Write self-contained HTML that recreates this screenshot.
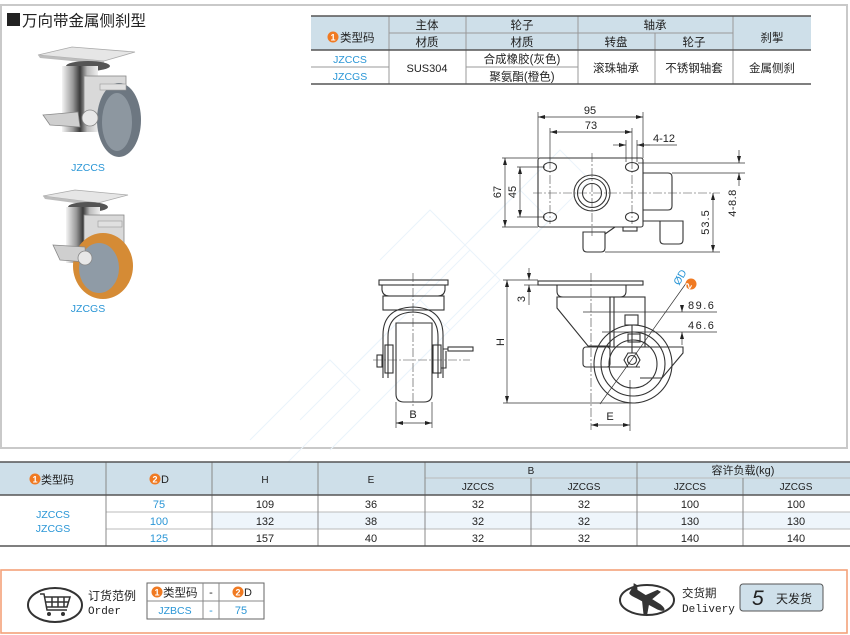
<!DOCTYPE html>
<html><head><meta charset="utf-8"><style>
html,body{margin:0;padding:0;background:#fff;width:850px;height:635px;overflow:hidden}
svg{display:block}
text{font-family:"Liberation Sans","Noto Sans CJK SC",sans-serif;fill:#222}
.m{font-family:"Liberation Mono","Noto Sans CJK SC",monospace}
.b{fill:#2a96d6}
.c{text-anchor:middle}
</style></head><body>
<svg width="850" height="635" viewBox="0 0 850 635" xmlns="http://www.w3.org/2000/svg">
<defs>
<marker id="a" markerUnits="userSpaceOnUse" viewBox="0 0 7 4" refX="7" refY="2" markerWidth="7" markerHeight="4" orient="auto-start-reverse"><path d="M0,0 L7,2 L0,4z" fill="#222"/></marker>
<linearGradient id="chr" x1="0" x2="1"><stop offset="0" stop-color="#f4f4f4"/><stop offset=".3" stop-color="#9a9a9a"/><stop offset=".5" stop-color="#3a3a3a"/><stop offset=".7" stop-color="#bdbdbd"/><stop offset="1" stop-color="#efefef"/></linearGradient>
</defs>
<!-- main frame -->
<rect x="1" y="5" width="846" height="443" fill="#fff" stroke="#c9c9c9" stroke-width="2"/>
<!-- watermark -->
<g fill="none" stroke="#eaf4fb" stroke-width="1">
<path d="M250,440 L330,360 L360,390 L280,470"/>
<path d="M300,420 L420,300 L450,330 L330,450"/>
<path d="M360,360 L470,250 L500,280 L390,390"/>
<path d="M410,300 L520,190 L550,220 L440,330"/>
<path d="M470,240 L560,150 L590,180 L500,270"/>
<path d="M380,260 L430,210 L470,250"/>
</g>
<!-- title -->
<rect x="7" y="13" width="13" height="13" fill="#222"/>
<text x="22" y="26" font-size="15.5">万向带金属侧刹型</text>

<!-- caster 1 -->
<g>
<polygon points="38,55 72,47 135,52 104,61" fill="#e6e6e6" stroke="#aaa" stroke-width=".8"/>
<polygon points="38,55 104,61 104,64 40,58" fill="#bdbdbd"/>
<ellipse cx="88" cy="66" rx="22" ry="5" fill="#555"/>
<rect x="62" y="66" width="36" height="66" fill="url(#chr)"/>
<rect x="84" y="76" width="42" height="40" fill="#d9d9d9" stroke="#888" stroke-width=".8"/>
<ellipse cx="119" cy="120" rx="22" ry="37" fill="#6d7781"/>
<ellipse cx="117" cy="122" rx="15" ry="29" fill="#8d97a0"/>
<rect x="100" y="84" width="26" height="6" fill="#e0e0e0" stroke="#999" stroke-width=".6"/>
<polygon points="43,115 78,112 80,127 50,125" fill="#cfcfcf" stroke="#888" stroke-width=".8"/>
<circle cx="90" cy="118" r="8" fill="#e8e8e8" stroke="#888" stroke-width=".8"/>
</g>
<text x="88" y="171" font-size="10.5" class="c b">JZCCS</text>
<!-- caster 2 -->
<g>
<polygon points="43,196 75,190 128,195 98,203" fill="#e6e6e6" stroke="#aaa" stroke-width=".8"/>
<polygon points="43,196 98,203 98,206 45,199" fill="#bdbdbd"/>
<ellipse cx="88" cy="207" rx="20" ry="5" fill="#555"/>
<rect x="66" y="207" width="34" height="56" fill="url(#chr)"/>
<rect x="84" y="215" width="40" height="35" fill="#d9d9d9" stroke="#888" stroke-width=".8"/>
<ellipse cx="103" cy="266" rx="30" ry="33" fill="#d58b35"/>
<ellipse cx="99" cy="268" rx="20" ry="25" fill="#8f9ba6"/>
<rect x="98" y="221" width="24" height="6" fill="#e0e0e0" stroke="#999" stroke-width=".6"/>
<polygon points="53,245 85,247 86,262 60,260" fill="#cfcfcf" stroke="#888" stroke-width=".8"/>
<circle cx="85" cy="258" r="7" fill="#e8e8e8" stroke="#888" stroke-width=".8"/>
</g>
<text x="88" y="312" font-size="10.5" class="c b">JZCGS</text>

<!-- top table -->
<rect x="311" y="16" width="500" height="34" fill="#cedfe9"/>
<g stroke="#999" stroke-width="1">
<line x1="389" y1="33" x2="733" y2="33"/>
<line x1="311" y1="67" x2="389" y2="67"/>
<line x1="466" y1="67" x2="578" y2="67"/>
<line x1="389" y1="16" x2="389" y2="84"/>
<line x1="466" y1="16" x2="466" y2="84"/>
<line x1="578" y1="16" x2="578" y2="84"/>
<line x1="655" y1="33" x2="655" y2="84"/>
<line x1="733" y1="16" x2="733" y2="84"/>
</g>
<g stroke="#555" stroke-width="1.5">
<line x1="311" y1="16" x2="811" y2="16"/>
<line x1="311" y1="50" x2="811" y2="50"/>
<line x1="311" y1="84" x2="811" y2="84"/>
</g>
<g font-size="11.5">
<circle cx="333" cy="37" r="5.5" fill="#f07a22"/><text x="333" y="40.5" font-size="9" class="c" style="fill:#fff;font-weight:bold">1</text>
<text x="340" y="41.5">类型码</text>
<text x="427" y="29" class="c">主体</text><text x="427" y="46" class="c">材质</text>
<text x="522" y="29" class="c">轮子</text><text x="522" y="46" class="c">材质</text>
<text x="655" y="29" class="c">轴承</text>
<text x="616" y="46" class="c">转盘</text><text x="694" y="46" class="c">轮子</text>
<text x="772" y="41.5" class="c">刹掣</text>
<text x="350" y="63" font-size="10.5" class="c b">JZCCS</text>
<text x="350" y="80" font-size="10.5" class="c b">JZCGS</text>
<text x="427" y="72" font-size="11" class="c">SUS304</text>
<text x="522" y="63" class="c">合成橡胶(灰色)</text>
<text x="522" y="80.5" class="c">聚氨酯(橙色)</text>
<text x="616" y="72" class="c">滚珠轴承</text>
<text x="694" y="72" class="c">不锈钢轴套</text>
<text x="772" y="72" class="c">金属侧刹</text>
</g>

<!-- top view drawing -->
<g fill="none" stroke="#333" stroke-width="1.1">
<rect x="538" y="158" width="105" height="69" rx="2"/>
<path d="M643,173 H668 Q672,173 672,177 V206 Q672,210 668,210 H643"/>
<ellipse cx="550" cy="167" rx="6.5" ry="4.5"/>
<ellipse cx="632" cy="167" rx="6.5" ry="4.5"/>
<ellipse cx="550" cy="217" rx="6.5" ry="4.5"/>
<ellipse cx="632" cy="217" rx="6.5" ry="4.5"/>
<circle cx="592" cy="193" r="18"/>
<circle cx="592" cy="193" r="14.5"/>
<circle cx="592" cy="193" r="9.5"/>
<path d="M583,232 V248 Q583,252 587,252 H601 Q605,252 605,248 V232 Z"/>
<path d="M605,234 L615,227"/>
<path d="M660,221 V240 Q660,244 664,244 H679 Q683,244 683,240 V221 Z"/>
<path d="M643,221 H683"/>
<rect x="623" y="227" width="14" height="4"/>
</g>
<g stroke="#444" stroke-width=".6" fill="none" stroke-dasharray="9 2 2 2">
<line x1="533" y1="193" x2="720" y2="193"/>
<line x1="592" y1="153" x2="592" y2="236"/>
<line x1="550" y1="160" x2="550" y2="224"/>
<line x1="632" y1="160" x2="632" y2="224"/>
</g>
<g stroke="#333" stroke-width=".7" fill="none">
<line x1="538" y1="112" x2="538" y2="158"/><line x1="643" y1="112" x2="643" y2="158"/>
<line x1="538" y1="117" x2="643" y2="117" marker-start="url(#a)" marker-end="url(#a)"/>
<line x1="550" y1="128" x2="550" y2="160"/><line x1="632" y1="128" x2="632" y2="160"/>
<line x1="550" y1="132" x2="632" y2="132" marker-start="url(#a)" marker-end="url(#a)"/>
<line x1="626" y1="140" x2="626" y2="162"/><line x1="637" y1="140" x2="637" y2="162"/>
<line x1="613" y1="145" x2="626" y2="145" marker-end="url(#a)"/>
<line x1="650" y1="145" x2="637" y2="145" marker-end="url(#a)"/>
<line x1="637" y1="145" x2="677" y2="145"/>
<line x1="502" y1="158" x2="538" y2="158"/><line x1="502" y1="227" x2="538" y2="227"/>
<line x1="505" y1="158" x2="505" y2="227" marker-start="url(#a)" marker-end="url(#a)"/>
<line x1="517" y1="167" x2="545" y2="167"/><line x1="517" y1="217" x2="545" y2="217"/>
<line x1="520" y1="167" x2="520" y2="217" marker-start="url(#a)" marker-end="url(#a)"/>
<line x1="638" y1="163" x2="745" y2="163"/><line x1="672" y1="173" x2="745" y2="173"/>
<line x1="739" y1="150" x2="739" y2="163" marker-end="url(#a)"/>
<line x1="739" y1="186" x2="739" y2="173" marker-end="url(#a)"/>
<line x1="605" y1="252" x2="720" y2="252"/>
<line x1="713" y1="193" x2="713" y2="252" marker-start="url(#a)" marker-end="url(#a)"/>
</g>
<g font-size="11">
<text x="590" y="114" class="c">95</text>
<text x="591" y="129" class="c">73</text>
<text x="653" y="142">4-12</text>
<text transform="translate(501,192) rotate(-90)" class="c">67</text>
<text transform="translate(516,192) rotate(-90)" class="c">45</text>
<text transform="translate(736,203) rotate(-90)" class="c" letter-spacing=".5">4-8.8</text>
<text transform="translate(709,222) rotate(-90)" class="c" letter-spacing="1">53.5</text>
</g>

<!-- front view -->
<g fill="none" stroke="#333" stroke-width="1.1">
<rect x="379" y="280" width="69" height="5"/>
<path d="M382,285 H445 V290 Q444,296 438,296 H389 Q383,296 382,290 Z"/>
<rect x="383" y="296" width="61" height="14"/>
<path d="M383,378 V335 Q383,308 413,307 Q443,308 443,335 V378"/>
<path d="M388,378 V337 Q388,313 413,312 Q438,313 438,337 V378"/>
<path d="M396,323 H432 V394 Q432,402 424,402 H404 Q396,402 396,394 Z"/>
<rect x="385" y="345" width="8" height="28"/>
<rect x="433" y="345" width="8" height="28"/>
<rect x="448" y="347" width="25" height="4"/>
<path d="M443,349 H448 M446,351 V368 H441"/>
<rect x="377" y="355" width="5" height="12"/>
</g>
<g stroke="#444" stroke-width=".6" stroke-dasharray="9 2 2 2">
<line x1="413" y1="273" x2="413" y2="406"/>
<line x1="373" y1="360" x2="470" y2="360"/>
</g>
<g stroke="#333" stroke-width=".7">
<line x1="396" y1="402" x2="396" y2="428"/><line x1="432" y1="402" x2="432" y2="428"/>
<line x1="396" y1="423" x2="432" y2="423" marker-start="url(#a)" marker-end="url(#a)"/>
</g>
<text x="413" y="418" font-size="11" class="c">B</text>

<!-- side view -->
<g fill="none" stroke="#333" stroke-width="1.1">
<rect x="538" y="281" width="105" height="4"/>
<path d="M557,285 V291 Q557,297 563,297 H620 Q626,297 626,291 V285"/>
<path d="M557,297 V308 L588,346 H610 V297 Z"/>
<rect x="610" y="297" width="35" height="50"/>
<line x1="614" y1="297" x2="614" y2="347"/>
<circle cx="633" cy="364" r="39"/>
<circle cx="633" cy="364" r="32"/>
<circle cx="633" cy="364" r="24"/>
<rect x="583" y="347" width="27" height="20" rx="3"/>
<path d="M606,347 H683 V353 L662,378 H640"/>
<path d="M606,367 H640"/>
<polygon points="640,360 636,367 628,367 624,360 628,353 636,353" fill="#fff"/>
<circle cx="632" cy="360" r="4.5"/>
<rect x="625" y="315" width="13" height="10"/>
<rect x="628" y="334" width="12" height="8"/>
<line x1="632" y1="325" x2="632" y2="353"/>
</g>
<g stroke="#444" stroke-width=".6" stroke-dasharray="9 2 2 2">
<line x1="591" y1="273" x2="591" y2="430"/>
</g>
<g stroke="#333" stroke-width=".7">
<line x1="503" y1="280" x2="538" y2="280"/>
<line x1="503" y1="403" x2="633" y2="403"/>
<line x1="507" y1="280" x2="507" y2="403" marker-start="url(#a)" marker-end="url(#a)"/>
<line x1="524" y1="285" x2="538" y2="285"/>
<line x1="529" y1="268" x2="529" y2="280" marker-end="url(#a)"/>
<line x1="529" y1="305" x2="529" y2="285" marker-end="url(#a)"/>
<line x1="583" y1="312" x2="717" y2="312"/>
<line x1="602" y1="332" x2="717" y2="332"/>
<line x1="682" y1="305" x2="682" y2="312" marker-end="url(#a)"/>
<line x1="682" y1="345" x2="682" y2="332" marker-end="url(#a)"/>
<line x1="630" y1="380" x2="630" y2="431"/>
<line x1="591" y1="425" x2="630" y2="425" marker-start="url(#a)" marker-end="url(#a)"/>
<line x1="687" y1="282" x2="600" y2="404"/>
</g>
<g font-size="11">
<text transform="translate(504,342) rotate(-90)" class="c">H</text>
<text transform="translate(525,299) rotate(-90)" class="c">3</text>
<text x="688" y="309" letter-spacing="1.5">89.6</text>
<text x="688" y="329" letter-spacing="1.5">46.6</text>
<text x="610" y="420" class="c">E</text>
<text transform="translate(683,279) rotate(-60)" class="c b" font-size="10.5">ØD</text>
</g>
<circle cx="691" cy="284" r="5.5" fill="#f07a22"/>
<text transform="translate(691,287.5) rotate(-60)" font-size="9" class="c" style="fill:#fff;font-weight:bold">2</text>

<!-- bottom table -->
<rect x="0" y="462" width="850" height="33" fill="#cedfe9"/>
<rect x="212" y="512" width="638" height="17" fill="#eef5fb"/>
<g stroke="#bbb" stroke-width="1">
<line x1="106" y1="512" x2="850" y2="512"/>
<line x1="106" y1="529" x2="850" y2="529"/>
<line x1="425" y1="478" x2="850" y2="478"/>
</g>
<g stroke="#888" stroke-width="1">
<line x1="106" y1="462" x2="106" y2="546"/>
<line x1="212" y1="462" x2="212" y2="546"/>
<line x1="318" y1="462" x2="318" y2="546"/>
<line x1="425" y1="462" x2="425" y2="546"/>
<line x1="531" y1="478" x2="531" y2="546"/>
<line x1="637" y1="462" x2="637" y2="546"/>
<line x1="743" y1="478" x2="743" y2="546"/>
</g>
<g stroke="#555" stroke-width="1.5">
<line x1="0" y1="462" x2="850" y2="462"/>
<line x1="0" y1="495" x2="850" y2="495"/>
<line x1="0" y1="546" x2="850" y2="546"/>
</g>
<g font-size="11">
<circle cx="35" cy="479" r="5.5" fill="#f07a22"/><text x="35" y="482.5" font-size="9" class="c" style="fill:#fff;font-weight:bold">1</text>
<text x="41" y="483.5">类型码</text>
<circle cx="155" cy="479" r="5.5" fill="#f07a22"/><text x="155" y="482.5" font-size="9" class="c" style="fill:#fff;font-weight:bold">2</text>
<text x="161" y="483">D</text>
<text x="265" y="483" class="c" font-size="10">H</text>
<text x="371" y="483" class="c" font-size="10">E</text>
<text x="531" y="474" class="c" font-size="10">B</text>
<text x="743" y="474" class="c">容许负载(kg)</text>
<g font-size="10">
<text x="478" y="490" class="c">JZCCS</text><text x="584" y="490" class="c">JZCGS</text>
<text x="690" y="490" class="c">JZCCS</text><text x="796" y="490" class="c">JZCGS</text>
</g>
<text x="53" y="518" class="c b" font-size="10.5">JZCCS</text>
<text x="53" y="532" class="c b" font-size="10.5">JZCGS</text>
<text x="159" y="508" class="c b">75</text><text x="159" y="525" class="c b">100</text><text x="159" y="542" class="c b">125</text>
<text x="265" y="508" class="c">109</text><text x="265" y="525" class="c">132</text><text x="265" y="542" class="c">157</text>
<text x="371" y="508" class="c">36</text><text x="371" y="525" class="c">38</text><text x="371" y="542" class="c">40</text>
<text x="478" y="508" class="c">32</text><text x="478" y="525" class="c">32</text><text x="478" y="542" class="c">32</text>
<text x="584" y="508" class="c">32</text><text x="584" y="525" class="c">32</text><text x="584" y="542" class="c">32</text>
<text x="690" y="508" class="c">100</text><text x="690" y="525" class="c">130</text><text x="690" y="542" class="c">140</text>
<text x="796" y="508" class="c">100</text><text x="796" y="525" class="c">130</text><text x="796" y="542" class="c">140</text>
</g>

<!-- footer -->
<rect x="1" y="570" width="846" height="63" fill="none" stroke="#f4a27a" stroke-width="1.6"/>
<ellipse cx="55" cy="605" rx="27" ry="17" fill="none" stroke="#333" stroke-width="2"/>
<g fill="none" stroke="#333" stroke-width="1.5">
<path d="M40,594 H44 L47,610 H67"/>
<path d="M45,597 H70 L67,607 H47"/>
<path d="M52,597 V607 M58,597 V607 M64,597 V607 M46,602 H68"/>
</g>
<circle cx="49" cy="614" r="2" fill="#333"/><circle cx="63" cy="614" r="2" fill="#333"/>
<text x="88" y="600" font-size="12">订货范例</text>
<text x="88" y="614" font-size="11" class="m">Order</text>
<rect x="147" y="583" width="117" height="36" fill="#fff" stroke="#666" stroke-width="1"/>
<line x1="147" y1="601" x2="264" y2="601" stroke="#888"/>
<line x1="203" y1="583" x2="203" y2="619" stroke="#888"/>
<line x1="219" y1="583" x2="219" y2="619" stroke="#888"/>
<circle cx="157" cy="592" r="5.5" fill="#f07a22"/><text x="157" y="595.5" font-size="9" class="c" style="fill:#fff;font-weight:bold">1</text>
<text x="163" y="596.5" font-size="11.5">类型码</text>
<text x="211" y="596" font-size="11" class="c">-</text>
<circle cx="238" cy="592" r="5.5" fill="#f07a22"/><text x="238" y="595.5" font-size="9" class="c" style="fill:#fff;font-weight:bold">2</text>
<text x="244" y="596" font-size="11">D</text>
<text x="175" y="614" font-size="10.5" class="c b">JZBCS</text>
<text x="211" y="614" font-size="11" class="c b">-</text>
<text x="241" y="614" font-size="11" class="c b">75</text>

<ellipse cx="647" cy="600" rx="27" ry="15" fill="none" stroke="#333" stroke-width="2"/>
<g transform="translate(647,600) rotate(30)" fill="#333">
<path d="M-19,-2 Q-19,-4 -15,-4 L14,-3 Q20,-2 20,0 Q20,2 14,3 L-15,4 Q-19,4 -19,2 Z"/>
<path d="M-4,-3 L4,-14 L8,-14 L4,-3 Z"/>
<path d="M-4,3 L4,14 L8,14 L4,3 Z"/>
<path d="M-17,-2 L-20,-8 L-16,-8 L-12,-2 Z"/>
</g>
<text x="682" y="597" font-size="11.5">交货期</text>
<text x="682" y="612" font-size="11" class="m">Delivery</text>
<rect x="740" y="584" width="83" height="27" rx="3" fill="#cfe0ea" stroke="#555" stroke-width="1"/>
<text x="752" y="605" font-size="21" font-style="italic">5</text>
<text x="776" y="603" font-size="12">天发货</text>
</svg>
</body></html>
